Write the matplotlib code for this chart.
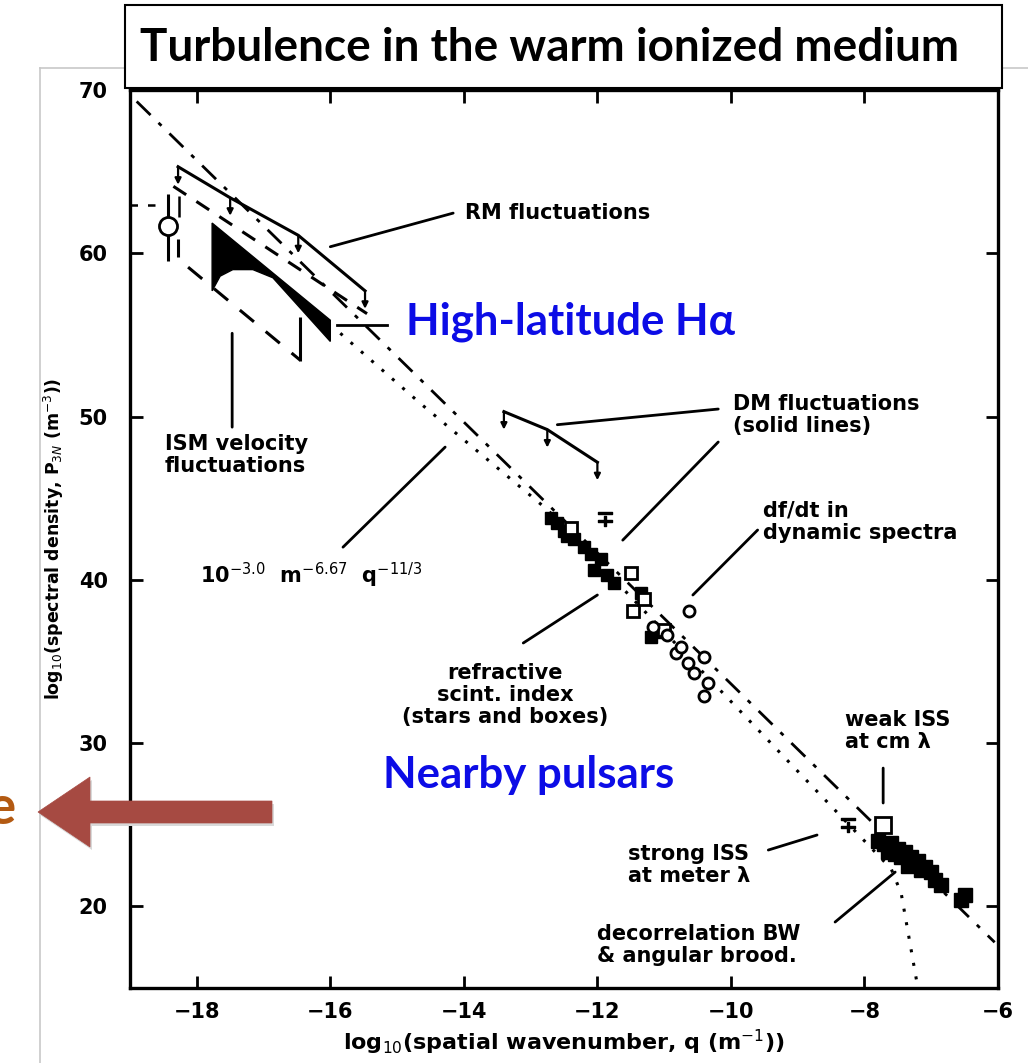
import matplotlib
matplotlib.use("Agg")
import matplotlib.pyplot as plt
from matplotlib.patches import Rectangle, Polygon
from matplotlib.lines import Line2D

W, H = 1028, 1063

# ── data (log10 q, log10 P) ──
powerlaw_q = [-18.9, -6.05]
powerlaw_p = [69.3, 17.8]

dotted_q = [-15.85, -14.65, -12.75, -7.6, -7.45, -7.2]
dotted_p = [55.1, 50.8, 44.3, 22.3, 20.8, 15.0]

rm_q = [-18.28, -17.5, -16.48, -15.48]
rm_p = [65.3, 63.4, 61.1, 57.7]

dm_q = [-13.4, -12.75, -12.0]
dm_p = [50.3, 49.2, 47.2]

vel_hi_q = [-18.35, -15.45]
vel_hi_p = [64.1, 56.3]
vel_lo_q = [-18.13, -16.45]
vel_lo_p = [59.15, 53.45]

wedge_q = [-17.77, -16.0, -16.0, -16.86, -17.16, -17.46, -17.65, -17.77]
wedge_p = [61.85, 55.9, 54.6, 58.5, 59.0, 59.0, 58.6, 57.7]

circ_q, circ_p, circ_lo, circ_hi = -18.43, 61.7, 59.5, 63.6

filled_q = [-12.7, -12.6, -12.5, -12.45, -12.35, -12.2, -12.1, -11.95, -12.05, -11.85, -11.75, -11.35, -11.2, -11.1]
filled_p = [43.8, 43.5, 43.0, 42.7, 42.5, 42.0, 41.6, 41.3, 40.6, 40.3, 39.8, 39.2, 36.5, 36.8]
opensq_q = [-12.4, -11.5, -11.46, -11.3, -11.0]
opensq_p = [43.2, 40.4, 38.1, 38.8, 36.9]
opencirc_q = [-11.16, -10.95, -10.83, -10.65, -10.4, -10.56, -10.35, -10.4, -10.75, -10.63]
opencirc_p = [37.1, 36.6, 35.5, 34.9, 35.3, 34.3, 33.7, 32.9, 35.9, 38.1]
limit_q = [-11.88, -8.25]
limit_p = [43.7, 25.0]

iss_q = [-7.8, -7.7, -7.6, -7.5, -7.45, -7.4, -7.3, -7.25, -7.2, -7.1, -7.0, -6.95, -7.55, -7.35, -6.85, -6.55, -6.5, -7.65, -7.15]
iss_p = [24.0, 23.8, 23.9, 23.5, 23.0, 23.3, 23.0, 22.6, 22.8, 22.4, 22.1, 21.6, 23.2, 22.5, 21.3, 20.4, 20.7, 23.3, 22.2]
iss_sq_q = [-7.72]
iss_sq_p = [25.0]

xticks = [-18, -16, -14, -12, -10, -8, -6]
yticks = [20, 30, 40, 50, 60, 70]

ink = "black"
plotfont = dict(family="DejaVu Sans", fontweight="bold", color=ink, fontsize=15)


def fx(px, py):
    """pixel position on the slide -> figure fraction"""
    return px / W, 1 - py / H


fig = plt.figure(figsize=(W / 100, H / 100), dpi=100)
fig.patch.set_facecolor("white")

# slide frame lines
fig.add_artist(Line2D([40 / W, 1], [1 - 68 / H] * 2, color="#c8c8c8", lw=1.2))
fig.add_artist(Line2D([40 / W] * 2, [0, 1 - 68 / H], color="#c8c8c8", lw=1.2))

ax = fig.add_axes([130 / W, 1 - 988 / H, 868 / W, 898 / H])
ax.set_xlim(-19, -6)
ax.set_ylim(15, 70)

# power-law line and the dotted model
ax.plot(powerlaw_q, powerlaw_p, color=ink, lw=2.0, ls=(0, (7, 4, 1.5, 4)))
ax.plot(dotted_q, dotted_p, color=ink, lw=2.2, ls=(0, (1, 3.5)))

# RM and DM upper limits (solid with down arrows)
for q, p in [(rm_q, rm_p), (dm_q, dm_p)]:
    ax.plot(q, p, color=ink, lw=2.2)
    for xi, yi in zip(q, p):
        ax.annotate("", xy=(xi, yi - 1.1), xytext=(xi, yi),
                    arrowprops=dict(arrowstyle="-|>", color=ink, lw=1.6,
                                    mutation_scale=9, shrinkA=0, shrinkB=0))

# ISM velocity fluctuation bounds
ax.plot(vel_hi_q, vel_hi_p, color=ink, lw=2.2, ls=(0, (5, 4)))
ax.plot(vel_lo_q, vel_lo_p, color=ink, lw=2.2, ls=(0, (6, 5)))
ax.vlines([vel_lo_q[1]], 53.4, 56.1, color=ink, lw=2.2)
ax.vlines([-18.28], 59.8, 60.9, color=ink, lw=2.2)
ax.plot([-19, -18.55], [62.95, 62.95], color=ink, lw=1.8, ls=(0, (3, 4)))

# black wedge
ax.add_patch(Polygon(list(zip(wedge_q, wedge_p)), closed=True, fc=ink, ec=ink, lw=1))

# circle with error bar
ax.vlines([circ_q], circ_lo, circ_hi, color=ink, lw=2.2)
ax.plot([circ_q], [circ_p], marker="o", ms=13, mfc="white", mec=ink, mew=2)
ax.vlines([-18.26], 62.2, 63.5, color=ink, lw=1.8)

# pulsar points
ax.plot(filled_q, filled_p, ls="none", marker="s", ms=8, mfc=ink, mec=ink)
ax.plot(opensq_q, opensq_p, ls="none", marker="s", ms=8, mfc="white", mec=ink, mew=2)
ax.plot(opencirc_q, opencirc_p, ls="none", marker="o", ms=8, mfc="white", mec=ink, mew=2)
ax.plot(iss_q, iss_p, ls="none", marker="s", ms=10, mfc=ink, mec=ink)
ax.plot(iss_sq_q, iss_sq_p, ls="none", marker="s", ms=11, mfc="white", mec=ink, mew=2)
ax.plot(limit_q, limit_p, ls="none", marker="$\\mp$", ms=10, color=ink)

# labels with pointer lines
pointer = dict(arrowstyle="-", color=ink, lw=2.0, shrinkA=0, shrinkB=0)
ax.annotate("", xy=(-16.0, 60.4), xytext=(-14.16, 62.46), arrowprops=pointer)
ax.text(-13.98, 62.46, "RM fluctuations", va="center", ha="left", **plotfont)

ax.annotate("", xy=(-17.47, 55.1), xytext=(-17.47, 49.35), arrowprops=pointer)
ax.text(-18.48, 47.64, "ISM velocity\nfluctuations", va="center", ha="left",
        linespacing=1.15, **plotfont)

ax.annotate("", xy=(-14.28, 48.13), xytext=(-15.81, 42.0), arrowprops=pointer)
ax.text(-17.95, 40.3, r"10$^{-3.0}$  m$^{-6.67}$  q$^{-11/3}$", va="center", ha="left",
        **plotfont)

ax.annotate("", xy=(-12.6, 49.5), xytext=(-10.19, 50.46), arrowprops=pointer)
ax.annotate("", xy=(-11.62, 42.43), xytext=(-10.19, 48.44), arrowprops=pointer)
ax.text(-9.97, 50.1, "DM fluctuations\n(solid lines)", va="center", ha="left",
        linespacing=1.15, **plotfont)

ax.annotate("", xy=(-10.57, 39.07), xytext=(-9.6, 43.05), arrowprops=pointer)
ax.text(-9.52, 43.54, "df/dt in\ndynamic spectra", va="center", ha="left",
        linespacing=1.15, **plotfont)

ax.annotate("", xy=(-12.0, 39.07), xytext=(-13.11, 36.13), arrowprops=pointer)
ax.text(-13.38, 32.94, "refractive\nscint. index\n(stars and boxes)", va="center",
        ha="center", multialignment="center", linespacing=1.15, **plotfont)

ax.annotate("", xy=(-7.72, 26.33), xytext=(-7.72, 28.47), arrowprops=pointer)
ax.text(-8.29, 30.74, "weak ISS\nat cm λ", va="center", ha="left",
        linespacing=1.15, **plotfont)

ax.annotate("", xy=(-8.71, 24.37), xytext=(-9.44, 23.45), arrowprops=pointer)
ax.text(-11.54, 22.53, "strong ISS\nat meter λ", va="center", ha="left",
        linespacing=1.15, **plotfont)

ax.annotate("", xy=(-7.54, 22.1), xytext=(-8.44, 19.04), arrowprops=pointer)
ax.text(-12.0, 17.63, "decorrelation BW\n& angular brood.", va="center", ha="left",
        linespacing=1.15, **plotfont)

ax.plot([-15.9, -15.15], [55.6, 55.6], color=ink, lw=2.0)

# axes styling
ax.set_xticks(xticks)
ax.set_yticks(yticks)
ax.set_xticklabels([f"\u2212{abs(t)}" for t in xticks])
ax.tick_params(direction="in", length=9, width=2, top=True, right=True,
               labelsize=15)
ax.tick_params(axis="x", pad=10)
ax.tick_params(axis="y", pad=16)
for lab in ax.get_xticklabels() + ax.get_yticklabels():
    lab.set_fontweight("bold")
for s in ax.spines.values():
    s.set_linewidth(2.4)
ax.set_xlabel(r"log$_{10}$(spatial wavenumber, q (m$^{-1}$))", fontsize=16,
              fontweight="bold", labelpad=4)
ax.set_ylabel(r"log$_{10}$(spectral density, P$_{3N}$ (m$^{-3}$))", fontsize=12.5,
              fontweight="bold", labelpad=9)

# overlay texts
fig.text(*fx(406, 322), "High-latitude H\u03b1", color="#0c0ce6", fontsize=31.5,
         fontweight="bold", family="Lato", va="center", ha="left")
fig.text(*fx(383, 775), "Nearby pulsars", color="#0c0ce6", fontsize=31.5,
         fontweight="bold", family="Lato", va="center", ha="left")

# title box
x0, y0 = fx(125, 88)
x1, y1 = fx(1002, 5)
fig.add_artist(Rectangle((x0, y0), x1 - x0, y1 - y0, transform=fig.transFigure,
                         fc="white", ec="black", lw=1.5, zorder=5))
fig.text(*fx(550, 48), "Turbulence in the warm ionized medium", fontsize=33,
         fontweight="bold", family="Lato", ha="center",
         va="center", zorder=6)

# red arrow pointing left (with a faint shadow)
arrow_px = [(38, 812), (90, 777), (90, 801), (272, 801), (272, 823), (90, 823), (90, 847)]
fig.add_artist(Polygon([fx(x + 2, y + 3) for x, y in arrow_px], closed=True,
                       transform=fig.transFigure, fc="#d9d9d9", ec="none", zorder=5))
fig.add_artist(Polygon([fx(*p) for p in arrow_px], closed=True, transform=fig.transFigure,
                       fc="#a64a42", ec="#a64a42", lw=0.5, zorder=6))
fig.text(*fx(15, 808), "e", color="#b35a12", fontsize=38, fontweight="bold",
         family="Lato", ha="right", va="center")

fig.savefig("out.png", dpi=100)
